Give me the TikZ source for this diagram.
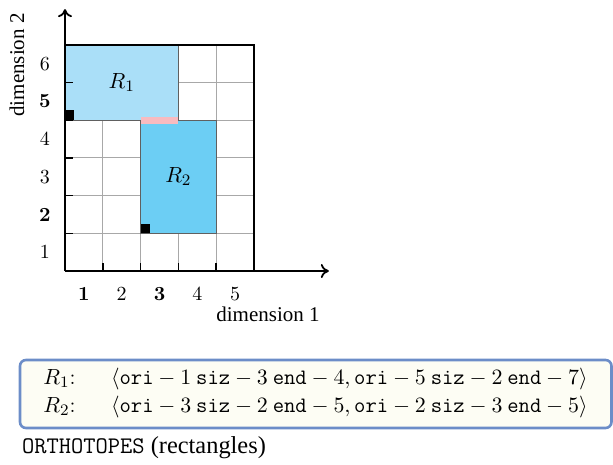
\documentclass[tikz,border=0pt]{standalone}
\usepackage{fontspec}
\newfontfamily\timesf{Liberation Serif}
\usetikzlibrary{arrows.meta}
\definecolor{rone}{HTML}{AADFF8}
\definecolor{rtwo}{HTML}{6CCEF4}
\definecolor{pinkbar}{HTML}{F8BBC0}
\definecolor{gridgray}{HTML}{A8A8A8}
\definecolor{routline}{HTML}{606060}
\definecolor{boxborder}{HTML}{6C8DC8}
\definecolor{boxfill}{HTML}{FDFDF4}
\tikzset{
  gridline/.style={draw=gridgray, line width=0.5pt},
  rect/.style={draw=routline, line width=0.7pt},
  axis/.style={line width=0.9pt, -{To[length=4pt,width=7pt]}},
  tick/.style={line width=0.8pt},
  ticklbl/.style={font=\fontsize{10}{12}\selectfont, inner sep=0pt},
  dimlbl/.style={font=\timesf\fontsize{10.5}{12}\selectfont, inner sep=0pt},
  corner/.style={fill=black},
  infobox/.style={draw=boxborder, fill=boxfill, line width=1.3pt, rounded corners=3pt},
  boxtxt/.style={font=\fontsize{11}{14}\selectfont, inner sep=0pt, anchor=base west}
}
\begin{document}
\begin{tikzpicture}[x=0.5pt, y=-0.5pt]
\useasboundingbox (0,0) rectangle (613,464);
\begin{scope}[shift={(65,271)}, x=18.9pt, y=18.84pt]
  % grid
  \draw[gridline, step=1] (0,0) grid (5,6);
  % rectangles
  \filldraw[rect, fill=rone] (0,4) rectangle (3,6);
  \filldraw[rect, fill=rtwo] (2,1) rectangle (4,4);
  \fill[pinkbar] (2,3.9) rectangle (3,4.1);
  \fill[corner] (0,4) rectangle (0.25,4.26);
  \fill[corner] (2,1) rectangle (2.26,1.26);
  % outer border
  \draw[line width=0.9pt] (0,6) -- (5,6) -- (5,0);
  % ticks
  \foreach \i in {1,...,5} \draw[tick] (\i,0) -- (\i,0.2);
  \foreach \j in {1,...,6} \draw[tick] (0,\j) -- (0.2,\j);
  % axes
  \coordinate (O) at (0,0);
  \coordinate (xend) at (6.98,0);
  \coordinate (yend) at (0,6.95);
  \draw[axis] (O) -- (xend);
  \draw[axis] (O) -- (yend);
  % tick labels
  \node[ticklbl] (x1) at (0.5,-0.6) {\textbf{1}};
  \node[ticklbl] (x2) at (1.5,-0.6) {2};
  \node[ticklbl] (x3) at (2.5,-0.6) {\textbf{3}};
  \node[ticklbl] (x4) at (3.5,-0.6) {4};
  \node[ticklbl] (x5) at (4.5,-0.6) {5};
  \node[ticklbl] (y1) at (-0.53,0.5) {1};
  \node[ticklbl] (y2) at (-0.53,1.5) {\textbf{2}};
  \node[ticklbl] (y3) at (-0.53,2.5) {3};
  \node[ticklbl] (y4) at (-0.53,3.5) {4};
  \node[ticklbl] (y5) at (-0.53,4.5) {\textbf{5}};
  \node[ticklbl] (y6) at (-0.53,5.5) {6};
  \node[font=\fontsize{11}{13}\selectfont] (r1) at (1.5,5.0) {$R_1$};
  \node[font=\fontsize{11}{13}\selectfont] (r2) at (3.0,2.5) {$R_2$};
\end{scope}
\node[dimlbl] (d1) at (268,314) {dimension 1};
\node[dimlbl, rotate=90] (d2) at (17,65) {dimension 2};
% info box
\draw[infobox] (20,360) rectangle (611.5,428);
\node[boxtxt] (l1) at (43,384) {$R_1$:};
\node[boxtxt] (l2) at (43,412) {$R_2$:};
\node[boxtxt] (t1) at (110.7,384) {$\langle \mathtt{ori}-1\:\mathtt{siz}-3\:\mathtt{end}-4, \mathtt{ori}-5\:\mathtt{siz}-2\:\mathtt{end}-7\rangle$};
\node[boxtxt] (t2) at (110.7,412) {$\langle \mathtt{ori}-3\:\mathtt{siz}-2\:\mathtt{end}-5, \mathtt{ori}-2\:\mathtt{siz}-3\:\mathtt{end}-5\rangle$};
\node[inner sep=0pt, anchor=base west] (cap) at (21.7,453) {\fontsize{11.9}{14}\selectfont\ttfamily ORTHOTOPES\timesf\fontsize{12.2}{14}\selectfont{} (rectangles)};
\end{tikzpicture}
\end{document}
